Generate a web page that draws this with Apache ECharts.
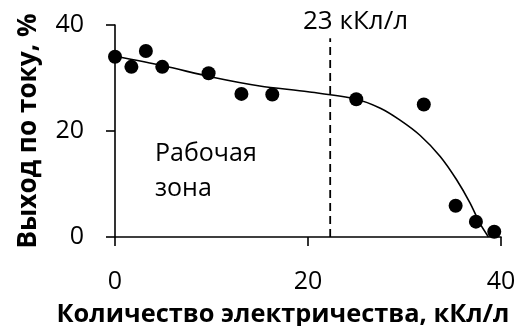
<!DOCTYPE html>
<html><head><meta charset="utf-8">
<script src="https://cdn.jsdelivr.net/npm/echarts@6/dist/echarts.min.js"></script>
<style>html,body{margin:0;padding:0;background:#fff}#c{width:518px;height:326px}</style>
</head><body><div id="c"></div>
<script>
// Data
const pointsX = [0, 1.7, 3.2, 4.9, 9.7, 13.1, 16.3, 25.0, 32.0, 35.3, 37.4, 39.3];
const pointsY = [34.0, 32.1, 35.1, 32.1, 30.9, 27.0, 26.9, 26.0, 25.0, 5.9, 2.9, 1.0];
const curveX = [0, 5, 10, 15, 20, 25, 27.5, 29.5, 31.6, 33.7, 35.4, 36.8, 37.8, 38.7];
const curveY = [34.1, 32.3, 30.2, 28.5, 27.4, 26.0, 24.3, 22.1, 19.2, 15.2, 10.8, 6.4, 2.6, 0];
const markerX = 22.3;
const markerYTop = 37.5;
const markerLabel = '23 кКл/л';
const zoneLabel = 'Рабочая\nзона';
const xTicks = [0, 20, 40];
const yTicks = [0, 20, 40];
const xTitle = 'Количество электричества, кКл/л';
const yTitle = 'Выход по току, %';

const FONT = 'Open Sans';
const chart = echarts.init(document.getElementById('c'), null, {renderer: 'canvas'});
const axisCommon = {
  min: 0, max: 40, interval: 20,
  splitLine: {show: false},
  axisLine: {show: true, onZero: false, lineStyle: {color: '#000', width: 1.6}},
  axisTick: {show: true, inside: false, length: 9, lineStyle: {color: '#000', width: 1.6}},
  axisLabel: {color: '#000', fontSize: 25, fontFamily: FONT}
};
chart.setOption({
  animation: false,
  grid: {left: 115, right: 17, top: 25, bottom: 89, containLabel: false, outerBoundsMode: 'none'},
  xAxis: Object.assign({}, axisCommon, {
    type: 'value',
    axisLabel: Object.assign({}, axisCommon.axisLabel, {margin: 32}),
    name: xTitle, nameLocation: 'middle', nameGap: 65,
    nameTextStyle: {color: '#000', fontSize: 25.4, fontWeight: 'bold', fontFamily: FONT, padding: [0, 50, 0, 0]}
  }),
  yAxis: Object.assign({}, axisCommon, {
    type: 'value',
    axisLabel: Object.assign({}, axisCommon.axisLabel, {margin: 31}),
    name: yTitle, nameLocation: 'middle', nameGap: 73, nameRotate: 90,
    nameTextStyle: {color: '#000', fontSize: 26.2, fontWeight: 'bold', fontFamily: FONT}
  }),
  series: [
    {
      type: 'line', smooth: 0.3, symbol: 'none',
      data: curveX.map((x, i) => [x, curveY[i]]),
      lineStyle: {color: '#000', width: 1.6}
    },
    {
      type: 'line', symbol: 'none',
      data: [[markerX, 0], [markerX, markerYTop]],
      lineStyle: {color: '#000', width: 1.8, type: [8, 5]}
    },
    {
      type: 'scatter', symbol: 'circle', symbolSize: 14,
      data: pointsX.map((x, i) => [x, pointsY[i]]),
      itemStyle: {color: '#000', opacity: 1}
    }
  ],
  graphic: [
    {type: 'text', left: 303, top: 9, style: {text: markerLabel, fill: '#000', font: '26px "' + FONT + '"'}},
    {type: 'text', left: 155, top: 136, style: {text: zoneLabel, fill: '#000', font: '25px "' + FONT + '"', lineHeight: 35}}
  ]
});
</script></body></html>
